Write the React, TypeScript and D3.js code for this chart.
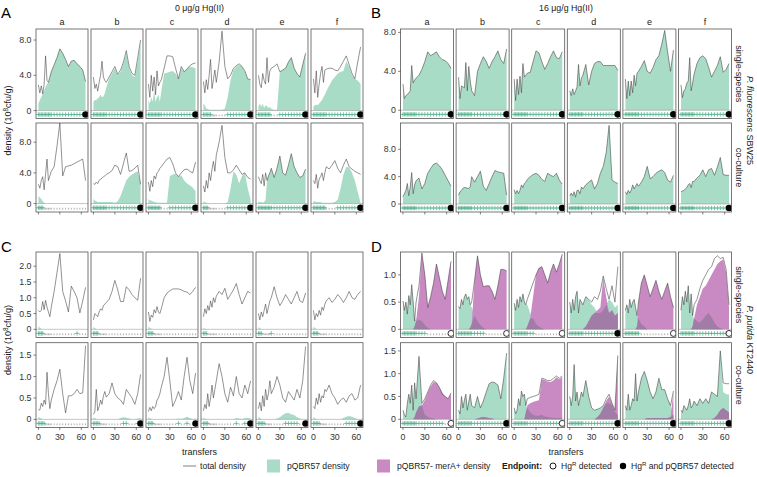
import React from "react";
import * as d3 from "d3";

// ---------------- DATA ----------------
const TRANSFERS = [0, 2, 4, 6, 8, 10, 12, 14, 16, 18, 22, 26, 30, 34, 38, 42, 46, 50, 54, 58, 62, 66];
const COLUMNS = ["a", "b", "c", "d", "e", "f"];
const ROWS = ["single-species", "co-culture"];
const HG_LABELS = ["0 μg/g Hg(II)", "16 μg/g Hg(II)"];

// A: P. fluorescens SBW25, 0 ug/g Hg
const A_SINGLE_TOTAL = [
  [2.9, 2.0, 2.8, 1.9, 3.0, 6.2, 3.4, 3.2, 3.8, 4.4, 5.2, 6.0, 7.0, 6.5, 5.8, 5.0, 5.6, 5.7, 5.3, 5.0, 4.6, 3.3],
  [3.8, 2.5, 3.0, 2.2, 3.2, 4.0, 5.6, 3.8, 3.4, 3.2, 3.8, 4.4, 5.0, 4.1, 4.6, 5.5, 6.8, 5.0, 4.2, 4.0, 6.0, 8.0],
  [3.0, 1.5, 4.0, 2.2, 3.8, 1.8, 4.5, 2.8, 3.2, 3.5, 4.8, 6.2, 6.2, 6.1, 4.8, 3.6, 5.0, 4.4, 4.7, 5.1, 5.3, 5.4],
  [3.3, 2.0, 3.5, 2.4, 4.0, 5.8, 2.5, 3.5, 4.6, 3.2, 5.5, 9.0, 5.0, 3.6, 4.0, 4.8, 5.1, 5.3, 5.0, 4.5, 3.6, 3.5],
  [4.0, 3.0, 2.6, 4.2, 3.4, 3.0, 6.0, 3.2, 4.5, 4.8, 5.0, 5.3, 4.4, 4.6, 4.8, 5.5, 6.0, 4.8, 4.2, 3.8, 5.2, 6.5],
  [3.6, 2.0, 4.5, 1.5, 3.0, 4.2, 5.0, 3.2, 4.6, 4.7, 4.8, 4.8, 4.6, 4.5, 5.0, 5.6, 6.2, 5.2, 4.2, 3.6, 5.5, 7.2],
];
const A_SINGLE_PQBR = [
  [0.8, 1.2, 1.5, 1.9, 2.3, 2.7, 3.0, 3.2, 3.8, 4.4, 5.2, 6.0, 7.0, 6.5, 5.8, 5.0, 5.6, 5.7, 5.3, 5.0, 4.6, 3.3],
  [1.0, 1.2, 1.2, 1.4, 1.5, 1.8, 1.5, 1.6, 2.0, 2.6, 3.6, 4.2, 4.8, 4.0, 4.4, 5.3, 6.5, 4.8, 4.0, 3.8, 5.6, 7.8],
  [1.2, 0.8, 1.5, 1.0, 2.3, 1.0, 1.5, 1.8, 1.0, 2.2, 4.2, 4.3, 4.4, 4.5, 4.2, 3.6, 4.8, 4.4, 4.7, 5.0, 4.9, 4.8],
  [0.8, 0.6, 0.2, 0.2, 0.1, 0.1, 0.1, 0.1, 0.1, 0.1, 0.1, 0.1, 0.2, 1.5, 3.5, 4.6, 5.0, 5.2, 5.0, 4.4, 3.6, 3.5],
  [0.5, 0.8, 0.4, 0.8, 0.3, 0.6, 0.5, 0.3, 0.4, 0.2, 0.1, 0.1, 4.4, 4.6, 4.8, 5.5, 6.0, 4.8, 4.2, 3.8, 5.2, 6.5],
  [0.5, 0.6, 0.7, 0.6, 0.8, 1.0, 1.2, 1.5, 1.8, 2.2, 2.8, 3.4, 3.8, 4.2, 4.4, 4.5, 5.6, 5.0, 4.0, 3.6, 3.4, 3.0],
];
const A_CO_TOTAL = [
  [2.5, 2.0, 3.0, 3.5, 1.8, 3.8, 5.8, 3.0, 3.6, 4.2, 4.8, 7.5, 10.5, 3.6, 4.8, 4.9, 5.0, 5.2, 5.4, 5.6, 5.8, 3.0],
  [2.6, 2.5, 2.8, 2.6, 3.0, 3.2, 3.3, 3.5, 3.6, 3.8, 4.0, 4.3, 5.0, 4.8, 3.8, 5.2, 6.6, 4.2, 4.3, 4.6, 5.0, 2.5],
  [2.8, 1.6, 3.0, 2.2, 3.6, 3.2, 4.0, 4.2, 4.6, 4.8, 5.3, 5.8, 6.0, 5.2, 4.0, 3.5, 4.0, 4.4, 4.5, 4.2, 4.0, 5.4],
  [2.3, 1.5, 3.0, 2.0, 4.0, 3.0, 4.5, 5.5, 4.2, 6.3, 8.0, 10.2, 6.0, 4.0, 4.0, 4.4, 5.0, 4.4, 3.8, 4.0, 3.4, 3.2],
  [3.5, 3.0, 2.6, 3.8, 2.3, 4.0, 3.0, 3.6, 4.0, 4.6, 3.4, 4.6, 6.2, 4.0, 3.7, 5.0, 6.5, 4.8, 4.0, 3.4, 3.6, 4.5],
  [3.0, 2.6, 3.8, 2.0, 3.2, 3.5, 4.0, 3.0, 4.0, 4.8, 4.5, 5.0, 5.6, 4.6, 4.0, 5.0, 5.8, 4.8, 4.5, 4.2, 4.0, 3.8],
];
const A_CO_PQBR = [
  [1.0, 0.8, 0.6, 0.3, 0.1, 0, 0, 0, 0, 0, 0, 0, 0, 0, 0, 0, 0, 0, 0, 0, 0, 0],
  [0.6, 0.4, 0.3, 0.2, 0.2, 0.2, 0.2, 0.2, 0.2, 0.2, 0.2, 0.2, 0.1, 0.3, 1.0, 2.0, 3.0, 3.5, 3.8, 4.0, 4.2, 2.6],
  [0.6, 0.4, 0.4, 0.3, 0.2, 0.2, 0.1, 0.1, 0.1, 0.1, 0.1, 0.1, 3.6, 3.8, 3.9, 3.5, 3.7, 3.0, 2.6, 2.4, 2.1, 1.6],
  [0.3, 0.2, 0.1, 0, 0, 0, 0, 0, 0, 0, 0, 0, 0, 0.2, 2.0, 4.2, 3.8, 2.6, 3.6, 4.0, 2.0, 0.5],
  [0.3, 0.2, 0.2, 0.1, 0.2, 0.5, 3.0, 3.6, 4.0, 4.6, 3.4, 4.6, 6.2, 4.0, 3.7, 5.0, 6.5, 4.8, 4.0, 3.4, 3.6, 4.5],
  [0.3, 0.3, 0.2, 0.2, 0.2, 0.2, 0.1, 0.1, 0.1, 0.1, 0.1, 0.1, 0.2, 0.5, 2.0, 3.8, 4.8, 4.7, 4.0, 3.0, 1.5, 0.1],
];

// B: P. fluorescens SBW25, 16 ug/g Hg (pQBR57 density equals total)
const B_SINGLE_TOTAL = [
  [2.7, 1.2, 1.5, 1.6, 1.8, 2.0, 4.6, 2.8, 3.1, 3.3, 3.6, 4.2, 5.0, 6.0, 5.6, 5.8, 6.0, 5.5, 5.2, 5.1, 4.8, 4.3],
  [3.4, 1.2, 2.5, 2.4, 2.3, 4.9, 2.0, 4.5, 3.0, 2.0, 1.5, 4.0, 4.8, 5.5, 5.0, 4.3, 5.0, 5.5, 6.1, 5.2, 4.8, 6.3],
  [3.2, 1.0, 3.2, 1.6, 3.5, 1.8, 4.8, 3.4, 3.6, 3.8, 3.9, 5.0, 6.1, 5.9, 5.0, 4.2, 4.8, 5.5, 6.1, 5.4, 5.3, 6.0],
  [2.0, 1.5, 2.2, 1.6, 2.0, 2.4, 4.7, 2.5, 3.3, 3.6, 4.7, 2.6, 4.0, 4.8, 5.0, 5.0, 4.6, 4.6, 4.6, 4.6, 4.6, 4.1],
  [3.2, 1.2, 3.0, 1.5, 3.0, 1.8, 3.6, 2.5, 3.8, 4.0, 4.5, 5.1, 4.0, 3.8, 4.4, 5.2, 5.6, 6.8, 8.2, 6.0, 4.0, 6.2],
  [2.6, 1.3, 2.0, 2.2, 2.8, 3.0, 5.4, 2.0, 2.8, 3.7, 4.8, 5.4, 5.6, 5.3, 4.4, 3.4, 4.0, 4.6, 5.5, 3.9, 4.2, 4.8],
];
const B_CO_TOTAL = [
  [1.1, 1.5, 2.0, 3.0, 1.2, 2.5, 4.6, 1.5, 2.8, 3.4, 3.8, 2.2, 3.0, 4.5, 5.2, 5.8, 6.0, 5.6, 5.0, 4.2, 3.4, 2.6],
  [1.3, 1.8, 2.0, 2.3, 2.4, 2.4, 2.3, 2.3, 2.5, 4.0, 3.2, 4.0, 4.8, 2.6, 2.0, 3.0, 4.0, 4.9, 4.7, 4.6, 4.5, 1.3],
  [2.1, 1.5, 2.0, 1.5, 2.0, 2.8, 2.4, 3.0, 3.2, 3.6, 4.0, 4.3, 4.5, 4.2, 3.6, 3.3, 4.5, 4.2, 4.0, 4.5, 3.5, 2.9],
  [1.2, 1.6, 1.2, 1.8, 1.0, 2.0, 2.0, 1.5, 2.5, 2.2, 2.8, 3.2, 3.5, 2.2, 3.0, 4.5, 5.5, 7.5, 11.5, 3.5, 3.2, 3.0],
  [1.8, 1.4, 2.0, 1.6, 2.0, 2.8, 2.2, 2.6, 3.0, 2.6, 3.2, 4.0, 5.5, 3.7, 4.0, 4.5, 4.8, 5.0, 4.6, 3.5, 3.2, 4.2],
  [1.8, 1.9, 2.0, 2.2, 2.4, 2.8, 3.0, 2.4, 3.3, 3.3, 3.8, 4.2, 5.0, 4.0, 5.0, 5.2, 4.2, 5.4, 6.8, 4.3, 4.2, 4.2],
];

// C: P. putida KT2440, 0 ug/g Hg
const C_SINGLE_TOTAL = [
  [0.6, 0.55, 0.6, 0.88, 0.62, 0.92, 0.7, 0.55, 0.4, 0.7, 1.2, 1.8, 2.4, 1.2, 0.9, 0.55, 1.37, 1.2, 1.0, 0.52, 0.9, 1.33],
  [0.3, 0.5, 0.45, 0.4, 0.55, 0.65, 0.6, 0.75, 0.8, 0.85, 0.95, 1.2, 1.55, 1.25, 0.88, 0.88, 1.35, 1.25, 1.1, 1.0, 0.92, 1.62],
  [0.55, 0.25, 0.45, 0.38, 0.62, 0.52, 0.72, 0.55, 0.5, 0.65, 1.0, 1.15, 1.22, 1.28, 1.28, 1.28, 1.25, 1.2, 1.18, 1.1, 1.2, 1.33],
  [0.4, 0.65, 0.5, 0.75, 0.6, 0.9, 0.7, 1.0, 0.85, 1.05, 1.2, 1.1, 1.3, 0.95, 1.1, 1.25, 1.45, 1.1, 0.8, 1.0, 1.2, 1.15],
  [0.5, 0.3, 0.55, 0.4, 0.6, 0.8, 0.5, 0.7, 0.9, 1.0, 1.35, 1.0, 0.75, 0.9, 1.1, 0.95, 0.8, 1.0, 1.2, 0.9, 0.85, 1.15],
  [0.6, 0.3, 0.5, 0.4, 0.6, 0.45, 0.7, 0.6, 0.8, 0.9, 1.0, 0.85, 0.95, 1.1, 1.0, 0.85, 1.0, 1.2, 1.0, 0.95, 1.1, 1.2],
];
const C_SINGLE_PQBR = [
  [0.1, 0.05, 0.02, 0, 0, 0, 0, 0, 0, 0, 0, 0, 0, 0, 0, 0, 0, 0, 0.01, 0, 0, 0],
  [0.08, 0.03, 0.01, 0, 0, 0, 0, 0, 0, 0, 0, 0, 0, 0, 0, 0, 0, 0, 0, 0, 0, 0],
  [0.08, 0.05, 0.02, 0, 0, 0, 0, 0, 0, 0, 0, 0, 0, 0, 0, 0, 0, 0, 0, 0, 0, 0],
  [0.06, 0.02, 0.01, 0, 0, 0, 0, 0, 0, 0, 0, 0, 0, 0, 0, 0, 0, 0, 0, 0, 0, 0],
  [0.07, 0.03, 0.01, 0, 0, 0, 0, 0, 0, 0.01, 0, 0, 0, 0, 0, 0, 0, 0, 0, 0, 0, 0],
  [0.08, 0.04, 0.01, 0, 0, 0, 0, 0, 0, 0, 0, 0, 0, 0, 0, 0, 0, 0, 0, 0, 0, 0],
];
const C_CO_TOTAL = [
  [0.22, 0.22, 0.38, 0.3, 0.45, 0.35, 1.1, 0.6, 0.25, 0.45, 0.7, 0.9, 1.17, 0.6, 0.15, 0.55, 0.55, 0.6, 0.7, 0.6, 0.62, 1.72],
  [0.12, 0.18, 0.7, 0.2, 0.3, 0.45, 0.35, 0.55, 0.65, 0.52, 0.6, 0.85, 0.6, 0.5, 0.45, 0.35, 0.7, 0.6, 0.5, 0.35, 0.6, 1.05],
  [0.18, 0.28, 0.2, 0.3, 0.25, 0.3, 0.45, 0.5, 0.6, 0.75, 1.0, 1.45, 0.9, 0.3, 0.45, 0.65, 0.45, 1.0, 1.45, 0.9, 0.6, 1.08],
  [0.2, 0.35, 0.25, 0.6, 0.3, 0.5, 0.8, 0.5, 0.7, 0.9, 1.3, 1.0, 0.6, 0.4, 0.75, 0.55, 1.0, 0.6, 0.5, 0.8, 0.6, 0.9],
  [0.25, 0.4, 0.2, 0.55, 0.3, 0.7, 0.45, 0.6, 0.9, 0.6, 0.75, 1.0, 0.8, 0.5, 0.4, 0.65, 0.55, 0.45, 0.7, 0.5, 0.9, 1.7],
  [0.3, 0.25, 0.5, 0.35, 0.6, 0.4, 0.55, 0.5, 0.7, 0.65, 0.8, 0.6, 0.5, 0.35, 0.45, 0.5, 0.4, 0.55, 0.6, 0.45, 0.5, 0.8],
];
const C_CO_PQBR = [
  [0.06, 0.04, 0.02, 0, 0, 0, 0, 0, 0, 0, 0, 0, 0, 0, 0, 0, 0, 0, 0, 0, 0, 0],
  [0.05, 0.03, 0.01, 0, 0, 0, 0, 0, 0, 0, 0, 0, 0, 0, 0.03, 0.05, 0.04, 0.02, 0, 0, 0.02, 0.03],
  [0.05, 0.03, 0.01, 0, 0, 0, 0, 0, 0, 0, 0, 0, 0, 0, 0, 0.02, 0.01, 0.03, 0.06, 0.03, 0.01, 0.02],
  [0.05, 0.02, 0.01, 0, 0, 0, 0, 0, 0, 0, 0, 0, 0, 0, 0, 0, 0.03, 0.02, 0.01, 0.03, 0.04, 0.02],
  [0.06, 0.03, 0.01, 0, 0, 0, 0, 0, 0, 0, 0, 0.02, 0.05, 0.1, 0.14, 0.15, 0.12, 0.1, 0.05, 0.02, 0, 0],
  [0.05, 0.03, 0.01, 0, 0, 0, 0, 0, 0, 0, 0, 0, 0, 0, 0, 0.03, 0.06, 0.08, 0.06, 0.03, 0.01, 0],
];

// D: P. putida KT2440, 16 ug/g Hg
const D_SINGLE_TOTAL = [
  [0.52, 0.35, 0.5, 0.28, 0.62, 0.45, 0.82, 0.5, 0.15, 0.5, 0.8, 1.4, 1.0, 0.4, 0.6, 0.85, 1.2, 0.95, 0.7, 0.55, 0.9, 1.25],
  [0.42, 0.38, 0.55, 0.45, 0.6, 0.65, 0.55, 0.6, 0.45, 0.5, 0.9, 1.35, 1.0, 0.78, 0.8, 0.8, 0.7, 0.55, 0.8, 1.1, 1.1, 1.07],
  [0.48, 0.35, 0.55, 0.4, 0.6, 0.5, 0.65, 0.5, 0.45, 0.55, 0.7, 0.85, 1.0, 1.12, 1.15, 1.0, 0.85, 1.05, 1.2, 1.05, 1.2, 1.38],
  [0.5, 0.3, 0.55, 0.35, 0.6, 0.7, 0.3, 0.55, 0.5, 0.45, 0.6, 0.55, 0.5, 0.6, 0.55, 0.7, 0.98, 0.75, 0.55, 0.8, 0.5, 1.15],
  [0.35, 0.45, 0.3, 0.55, 0.4, 0.5, 0.55, 0.4, 0.25, 0.5, 0.85, 1.0, 0.8, 0.6, 0.75, 0.9, 0.7, 0.55, 0.7, 0.85, 0.6, 0.4],
  [0.35, 0.6, 0.45, 0.7, 0.5, 0.8, 0.3, 0.65, 0.25, 0.45, 0.55, 0.75, 0.9, 1.0, 1.1, 1.15, 1.3, 1.35, 1.3, 1.32, 1.1, 0.45],
];
const D_SINGLE_PQBR = [
  [0.52, 0.35, 0.5, 0.28, 0.62, 0.45, 0.82, 0.5, 0.15, 0.2, 0.18, 0.15, 0.08, 0.03, 0, 0, 0, 0, 0, 0, 0, 0],
  [0.42, 0.38, 0.55, 0.45, 0.6, 0.65, 0.55, 0.6, 0.45, 0.4, 0.25, 0.15, 0.08, 0.03, 0, 0, 0, 0, 0, 0, 0, 0],
  [0.48, 0.35, 0.55, 0.4, 0.6, 0.5, 0.65, 0.5, 0.45, 0.45, 0.3, 0.2, 0.1, 0.05, 0.02, 0, 0, 0, 0, 0, 0, 0],
  [0.5, 0.3, 0.55, 0.35, 0.6, 0.7, 0.3, 0.55, 0.5, 0.45, 0.6, 0.55, 0.45, 0.4, 0.3, 0.3, 0.35, 0.45, 0.55, 0.5, 0.4, 0.45],
  [0.35, 0.45, 0.3, 0.55, 0.4, 0.5, 0.55, 0.4, 0.25, 0.2, 0.1, 0.05, 0, 0, 0, 0, 0, 0, 0, 0, 0, 0],
  [0.35, 0.6, 0.45, 0.7, 0.5, 0.8, 0.3, 0.65, 0.25, 0.2, 0.15, 0.12, 0.18, 0.25, 0.3, 0.22, 0.12, 0.05, 0.02, 0, 0, 0],
];
const D_SINGLE_MERA = [
  [0, 0, 0, 0, 0, 0, 0, 0, 0.05, 0.15, 0.6, 1.4, 1.0, 0.4, 0.6, 0.85, 1.2, 0.95, 0.7, 0.55, 0.9, 1.25],
  [0, 0, 0, 0, 0, 0, 0, 0, 0.03, 0.1, 0.9, 1.35, 1.0, 0.78, 0.8, 0.8, 0.7, 0.55, 0.8, 1.1, 1.1, 1.07],
  [0, 0, 0, 0, 0, 0, 0, 0, 0, 0.05, 0.2, 0.6, 1.0, 1.12, 1.15, 1.0, 0.85, 1.05, 1.2, 1.05, 1.2, 1.38],
  [0, 0, 0, 0, 0, 0, 0, 0, 0, 0, 0.05, 0.15, 0.25, 0.3, 0.35, 0.4, 0.95, 0.6, 0.3, 0.35, 0.25, 0.3],
  [0, 0, 0, 0, 0, 0, 0, 0, 0.05, 0.5, 0.85, 1.0, 0.8, 0.6, 0.75, 0.9, 0.7, 0.55, 0.7, 0.85, 0.6, 0.4],
  [0, 0, 0, 0, 0, 0, 0, 0, 0.05, 0.2, 0.45, 0.6, 0.75, 0.8, 0.9, 1.0, 1.1, 1.2, 1.25, 1.28, 1.05, 0.4],
];
const D_CO_TOTAL = [
  [0.2, 0.1, 0.05, 0.35, 0.55, 0.35, 0.75, 0.2, 0.8, 0.45, 1.38, 0.35, 0.45, 0.6, 0.75, 0.85, 0.8, 0.7, 0.55, 0.5, 0.45, 0.58],
  [0.2, 0.12, 0.5, 0.25, 0.42, 0.55, 0.2, 0.38, 0.55, 0.3, 0.25, 0.5, 0.25, 0.4, 0.6, 0.78, 0.82, 0.8, 0.75, 0.45, 0.9, 1.45],
  [0.25, 0.12, 0.2, 0.45, 0.3, 0.62, 0.5, 0.55, 0.3, 0.45, 0.48, 0.5, 0.52, 0.55, 0.9, 0.88, 0.85, 0.85, 0.9, 0.95, 0.9, 0.95],
  [0.5, 0.3, 0.5, 1.2, 0.4, 0.6, 0.3, 0.45, 0.6, 0.5, 0.85, 0.5, 0.25, 0.2, 0.22, 0.25, 0.3, 0.45, 0.55, 0.35, 0.2, 1.4],
  [0.3, 0.2, 0.55, 0.2, 0.3, 0.45, 0.4, 1.0, 0.4, 0.6, 0.9, 1.05, 0.85, 0.6, 0.45, 0.6, 0.9, 0.65, 0.65, 0.45, 0.3, 0.62],
  [0.2, 0.15, 0.3, 0.25, 0.2, 0.3, 0.45, 0.25, 0.3, 0.4, 0.3, 0.45, 0.35, 0.45, 0.35, 0.6, 0.55, 0.5, 1.5, 0.8, 0.78, 0.78],
];
const D_CO_PQBR = [
  [0.2, 0.1, 0.05, 0.35, 0.55, 0.35, 0.75, 0.2, 0.8, 0.45, 1.38, 0.3, 0.1, 0.05, 0.03, 0.02, 0, 0, 0, 0, 0, 0.02],
  [0.2, 0.12, 0.5, 0.25, 0.42, 0.55, 0.2, 0.38, 0.55, 0.3, 0.25, 0.5, 0.25, 0.4, 0.6, 0.78, 0.82, 0.8, 0.75, 0.45, 0.9, 1.45],
  [0.25, 0.12, 0.2, 0.45, 0.3, 0.62, 0.5, 0.55, 0.3, 0.25, 0.15, 0.1, 0.08, 0.08, 0.1, 0.06, 0.05, 0.04, 0.03, 0.03, 0.03, 0.02],
  [0.5, 0.3, 0.5, 1.2, 0.4, 0.6, 0.3, 0.45, 0.6, 0.5, 0.85, 0.5, 0.25, 0.2, 0.22, 0.25, 0.3, 0.35, 0.35, 0.3, 0.15, 0.1],
  [0.3, 0.2, 0.55, 0.2, 0.3, 0.45, 0.4, 1.0, 0.4, 0.6, 0.9, 1.05, 0.85, 0.6, 0.45, 0.6, 0.9, 0.65, 0.65, 0.45, 0.3, 0.1],
  [0.2, 0.15, 0.3, 0.25, 0.2, 0.3, 0.45, 0.25, 0.3, 0.4, 0.3, 0.45, 0.35, 0.45, 0.35, 0.6, 0.55, 0.5, 1.5, 0.6, 0.55, 0.55],
];
const D_CO_MERA = [
  [0, 0, 0, 0, 0, 0, 0, 0, 0.05, 0.15, 0.28, 0.3, 0.42, 0.58, 0.72, 0.82, 0.8, 0.7, 0.58, 0.5, 0.45, 0.56],
  [0, 0, 0, 0, 0, 0, 0, 0, 0, 0, 0, 0.02, 0.04, 0.05, 0.04, 0.03, 0.02, 0, 0, 0, 0, 0],
  [0, 0, 0, 0, 0, 0, 0, 0, 0.15, 0.3, 0.35, 0.38, 0.4, 0.42, 0.88, 0.86, 0.83, 0.82, 0.85, 0.92, 0.88, 0.93],
  [0, 0, 0, 0, 0, 0, 0, 0, 0, 0, 0, 0, 0, 0, 0.05, 0.12, 0.25, 0.4, 0.5, 0.35, 0.2, 1.4],
  [0, 0, 0, 0, 0, 0, 0, 0, 0, 0, 0, 0, 0.03, 0.03, 0.03, 0.03, 0.03, 0.03, 0.03, 0.03, 0.05, 0.6],
  [0, 0, 0, 0, 0, 0, 0, 0, 0, 0, 0, 0, 0, 0, 0, 0, 0.03, 0.1, 0.2, 0.25, 0.2, 0.15],
];

// detection of pQBR57 at each transfer ('+' detected, '.' not detected)
const ALL = "++++++++++++++++++++++";
const A_SINGLE_DETECT = [ALL, ALL, ALL, "++++++.......+++++++++", "+++++++++...++++++++++", ALL];
const A_CO_DETECT = ["++++..................", ALL, "+++++++++...++++++++++", "++++.........+++++++++", ALL, "+++++++++....+++++++++"];
const B_SINGLE_DETECT = [ALL, ALL, ALL, ALL, ALL, ALL];
const B_CO_DETECT = [ALL, ALL, ALL, ALL, ALL, ALL];
const C_SINGLE_DETECT = ["++++..............+...", "++++..................", "++++..................", "+++...................", "+++......+............", "++++.................."];
const C_CO_DETECT = ["+++++.................", "+++++..........++...+.", "++++...........+..+...", "++++............+..++.", "+++++.........+++++...", "+++++...........+++++."];
const D_SINGLE_DETECT = ["+++++++++++++.........", "++++++++++++++........", "++++++++++++..........", ALL, "++++++++++............", ALL];
const D_CO_DETECT = ["+++++++++++++++++++...", ALL, ALL, ALL, ALL, ALL];

// endpoint: F = HgR and pQBR57 detected, O = HgR detected, - = none
const A_SINGLE_END = "FFFFFF";
const A_CO_END = "-FFFFF";
const B_SINGLE_END = "FFFFFF";
const B_CO_END = "FFFFFF";
const C_SINGLE_END = "------";
const C_CO_END = "-FFFFF";
const D_SINGLE_END = "OOOFOO";
const D_CO_END = "OFOFFF";

const X_TICKS = [0, 30, 60];
const ENDPOINT_T = 66;

// ---------------- STYLE / LAYOUT ----------------
const FONT = "'Liberation Sans', Arial, Helvetica, sans-serif";
const GREEN = "#a9dcc6";
const MAGENTA = "#c98ac4";
const OVERLAP = "#a07ca6";
const PLUS = "#55b48f";
const TXT = "#333333";
const X_DOMAIN = [-3.4, 69.4];

type Sec = {
  id: string;
  left: number;
  step: number;
  w: number;
  rows: number[][];
  domains: number[][];
  ticks: number[][];
  total: number[][][];
  pqbr: number[][][];
  mera?: number[][][];
  detect: string[][];
  end: string[];
  top: boolean;
  right: boolean;
};

const TOP_ROWS = [[29, 118.5], [123, 212]];
const BOT_ROWS = [[252, 337.5], [342.7, 427.5]];

const SECTIONS: Sec[] = [
  { id: "A", left: 36, step: 55, w: 52, rows: TOP_ROWS, domains: [[-0.9, 9.25], [-1.1, 10.5]], ticks: [[0, 4, 8], [0, 4, 8]],
    total: [A_SINGLE_TOTAL, A_CO_TOTAL], pqbr: [A_SINGLE_PQBR, A_CO_PQBR], detect: [A_SINGLE_DETECT, A_CO_DETECT], end: [A_SINGLE_END, A_CO_END], top: true, right: false },
  { id: "B", left: 400.5, step: 55.6, w: 53, rows: TOP_ROWS, domains: [[-0.85, 8.35], [-1.17, 11.85]], ticks: [[0, 4, 8], [0, 4, 8]],
    total: [B_SINGLE_TOTAL, B_CO_TOTAL], pqbr: [B_SINGLE_TOTAL, B_CO_TOTAL], detect: [B_SINGLE_DETECT, B_CO_DETECT], end: [B_SINGLE_END, B_CO_END], top: true, right: true },
  { id: "C", left: 36, step: 55, w: 52, rows: BOT_ROWS, domains: [[-0.26, 2.45], [-0.19, 1.79]], ticks: [[0, 0.5, 1, 1.5, 2], [0, 0.5, 1, 1.5]],
    total: [C_SINGLE_TOTAL, C_CO_TOTAL], pqbr: [C_SINGLE_PQBR, C_CO_PQBR], detect: [C_SINGLE_DETECT, C_CO_DETECT], end: [C_SINGLE_END, C_CO_END], top: false, right: false },
  { id: "D", left: 400.5, step: 55.6, w: 53, rows: BOT_ROWS, domains: [[-0.15, 1.42], [-0.18, 1.68]], ticks: [[0, 0.5, 1], [0, 0.5, 1, 1.5]],
    total: [D_SINGLE_TOTAL, D_CO_TOTAL], pqbr: [D_SINGLE_PQBR, D_CO_PQBR], mera: [D_SINGLE_MERA, D_CO_MERA], detect: [D_SINGLE_DETECT, D_CO_DETECT], end: [D_SINGLE_END, D_CO_END], top: false, right: true },
];

const fmt = (v: number) => (v === 0 ? "0" : v.toFixed(1));

function Panel({ sec, r, c }: { sec: Sec; r: number; c: number }) {
  const [top, bottom] = sec.rows[r];
  const x0 = sec.left + c * sec.step;
  const x = d3.scaleLinear().domain(X_DOMAIN).range([x0, x0 + sec.w]);
  const dom = sec.domains[r];
  const y = d3.scaleLinear().domain(dom).range([bottom, top]);
  const idx = TRANSFERS.map((_, i) => i);
  const total = sec.total[r][c];
  const pqbr = sec.pqbr[r][c];
  const mera = sec.mera ? sec.mera[r][c] : null;
  const areaOf = (vals: number[]) =>
    d3.area<number>().x((i) => x(TRANSFERS[i])).y0(y(0)).y1((i) => y(vals[i]))(idx) || "";
  const lineD = d3.line<number>().x((i) => x(TRANSFERS[i])).y((i) => y(total[i]))(idx) || "";
  const overlap = mera ? mera.map((m, i) => Math.min(m, pqbr[i])) : null;
  const my = y(dom[0] / 2);
  const det = sec.detect[r][c];
  const end = sec.end[r][c];
  const clipId = `clip-${sec.id}-${r}-${c}`;
  const isBottomRow = r === 1;
  return (
    <g>
      <defs>
        <clipPath id={clipId}>
          <rect x={x0} y={top} width={sec.w} height={bottom - top} />
        </clipPath>
      </defs>
      <g clipPath={`url(#${clipId})`}>
        <path d={areaOf(pqbr)} fill={GREEN} />
        {mera && <path d={areaOf(mera)} fill={MAGENTA} />}
        {overlap && <path d={areaOf(overlap)} fill={OVERLAP} />}
        <line x1={x0} x2={x0 + sec.w} y1={y(0)} y2={y(0)} stroke="#8a8a8a" strokeWidth={0.5} />
        <path d={lineD} fill="none" stroke="#4a4a4a" strokeWidth={0.6} strokeLinejoin="round" />
        {idx.map((i) =>
          det[i] === "+" ? (
            <path key={i} d={`M${x(TRANSFERS[i]) - 2.2},${my}H${x(TRANSFERS[i]) + 2.2}M${x(TRANSFERS[i])},${my - 2.2}V${my + 2.2}`}
              stroke={PLUS} strokeWidth={0.8} fill="none" />
          ) : (
            <line key={i} x1={x(TRANSFERS[i])} x2={x(TRANSFERS[i])} y1={my} y2={my + 1.8} stroke="#9a9a9a" strokeWidth={0.8} />
          )
        )}
        {end === "F" && <circle cx={x(ENDPOINT_T)} cy={my} r={3.3} fill="#000" />}
        {end === "O" && <circle cx={x(ENDPOINT_T)} cy={my} r={3} fill="#fff" stroke="#000" strokeWidth={0.8} />}
      </g>
      <rect x={x0} y={top} width={sec.w} height={bottom - top} fill="none" stroke="#555" strokeWidth={0.8} />
      {c === 0 &&
        sec.ticks[r].map((t) => (
          <g key={t}>
            <line x1={x0 - 2.5} x2={x0} y1={y(t)} y2={y(t)} stroke="#333" strokeWidth={0.6} />
            <text x={x0 - 4.5} y={y(t)} dy="0.35em" textAnchor="end" fontSize={8.8} fill={TXT}>
              {fmt(t)}
            </text>
          </g>
        ))}
      {isBottomRow &&
        X_TICKS.map((t) => (
          <g key={t}>
            <line x1={x(t)} x2={x(t)} y1={bottom} y2={bottom + 2.5} stroke="#333" strokeWidth={0.6} />
            {!sec.top && (
              <text x={x(t)} y={bottom + 12.5} textAnchor="middle" fontSize={8.8} fill={TXT}>
                {t}
              </text>
            )}
          </g>
        ))}
      {sec.top && r === 0 && (
        <text x={x0 + sec.w / 2} y={25} textAnchor="middle" fontSize={9} fill="#1a1a1a">
          {COLUMNS[c]}
        </text>
      )}
    </g>
  );
}

export default function App() {
  const species = [
    { it: "P. fluorescens", rest: " SBW25" },
    { it: "P. putida", rest: " KT2440" },
  ];
  return (
    <svg width={757} height={477} style={{ position: "absolute", left: 0, top: 0, background: "#fff" }} fontFamily={FONT}>
      <rect x={0} y={0} width={757} height={477} fill="#fff" />
      {SECTIONS.map((sec) => (
        <g key={sec.id}>
          {[0, 1].map((r) => COLUMNS.map((_, c) => <Panel key={`${r}-${c}`} sec={sec} r={r} c={c} />))}
          <text x={sec.right ? 371 : 1} y={sec.top ? 17.5 : 252} fontSize={15} fill="#000">
            {sec.id}
          </text>
        </g>
      ))}
      {/* Hg headers */}
      <text x={199.5} y={10.5} textAnchor="middle" fontSize={8.8} fill="#1a1a1a">{HG_LABELS[0]}</text>
      <text x={566} y={10.5} textAnchor="middle" fontSize={8.8} fill="#1a1a1a">{HG_LABELS[1]}</text>
      {/* y titles */}
      {[120.5, 340].map((cy, k) => (
        <text key={k} transform={`translate(8,${cy}) rotate(-90)`} textAnchor="middle" dy="0.35em" fontSize={9} fill="#1a1a1a">
          density (10<tspan dy="-3" fontSize={6.5}>8</tspan><tspan dy="3">cfu/g)</tspan>
        </text>
      ))}
      {/* right strip labels */}
      {[TOP_ROWS, BOT_ROWS].map((rows, k) => (
        <g key={k}>
          {rows.map((rr, r) => (
            <text key={r} transform={`translate(739,${(rr[0] + rr[1]) / 2}) rotate(90)`} textAnchor="middle" dy="0.35em" fontSize={9} fill="#1a1a1a">
              {ROWS[r]}
            </text>
          ))}
          <text transform={`translate(750.5,${(rows[0][0] + rows[1][1]) / 2}) rotate(90)`} textAnchor="middle" dy="0.35em" fontSize={9} fill="#1a1a1a">
            <tspan fontStyle="italic">{species[k].it}</tspan>
            {species[k].rest}
          </text>
        </g>
      ))}
      {/* x titles */}
      <text x={199.5} y={455} textAnchor="middle" fontSize={9} fill="#1a1a1a">transfers</text>
      <text x={566} y={455} textAnchor="middle" fontSize={9} fill="#1a1a1a">transfers</text>
      {/* legend */}
      <g fontSize={8.6} fill="#1a1a1a">
        <line x1={183} x2={196} y1={466} y2={466} stroke="#4a4a4a" strokeWidth={0.7} />
        <text x={200} y={466} dy="0.35em">total density</text>
        <rect x={267} y={459.5} width={13} height={13} fill={GREEN} />
        <text x={287} y={466} dy="0.35em">pQBR57 density</text>
        <rect x={377} y={459.5} width={13} height={13} fill={MAGENTA} />
        <text x={397} y={466} dy="0.35em">pQBR57- merA+ density</text>
        <text x={502} y={466} dy="0.35em" fontWeight="bold">Endpoint:</text>
        <circle cx={553} cy={466} r={3} fill="#fff" stroke="#000" strokeWidth={0.9} />
        <text x={561} y={466} dy="0.35em">Hg<tspan dy="-3" fontSize={6}>R</tspan><tspan dy="3"> detected</tspan></text>
        <circle cx={623} cy={466} r={3.2} fill="#000" />
        <text x={631} y={466} dy="0.35em">Hg<tspan dy="-3" fontSize={6}>R</tspan><tspan dy="3"> and pQBR57 detected</tspan></text>
      </g>
    </svg>
  );
}
